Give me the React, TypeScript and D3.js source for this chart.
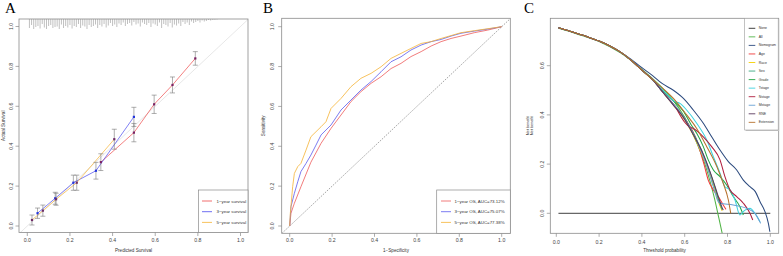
import React from "react";
import * as d3 from "d3";

// ---------- shared ticks ----------
const AXIS_TICKS = [0, 0.2, 0.4, 0.6, 0.8, 1.0];
const C_Y_TICKS = [0, 0.2, 0.4, 0.6];

// ---------- Panel A: calibration ----------
const calNames = ["1\u2212year survival", "3\u2212year survival", "5\u2212year survival"];
const calColors = ["#ee4a4a", "#4a4aee", "#f5b335"];
const calPointColors = ["#7a2062", "#2233dd", "#6e2a66"];
const calPred1 = [0.345, 0.5, 0.595, 0.681, 0.788];
const calObs1 = [0.32, 0.468, 0.61, 0.707, 0.84];
const calErr1 = [0.042, 0.046, 0.046, 0.04, 0.034];
const calPred3 = [0.048, 0.131, 0.216, 0.322, 0.5];
const calObs3 = [0.064, 0.139, 0.217, 0.277, 0.547];
const calErr3 = [0.026, 0.03, 0.038, 0.042, 0.048];
const calPred5 = [0.022, 0.073, 0.135, 0.232, 0.408];
const calObs5 = [0.03, 0.077, 0.134, 0.217, 0.435];
const calErr5 = [0.025, 0.028, 0.03, 0.038, 0.05];
const rugPos = d3.range(1, 90).map((i) => i / 100);
const rugHeight = [
  0.9, 0.6, 1, 0.8, 0.7, 0.95, 0.5, 0.85, 1, 0.7, 0.6, 0.9, 0.8, 0.75, 1, 0.55, 0.9, 0.7, 0.85, 0.6,
  0.95, 0.7, 0.8, 0.5, 0.9, 0.65, 0.75, 1, 0.6, 0.8, 0.7, 0.55, 0.9, 0.6, 0.75, 0.5, 0.85, 0.65, 0.4, 0.7,
  0.55, 0.8, 0.45, 0.6, 0.35, 0.7, 0.5, 0.4, 0.65, 0.3, 0.55, 0.45, 0.75, 0.35, 0.5, 0.6, 0.4, 0.8, 0.45, 0.55,
  0.7, 0.35, 0.9, 0.5, 0.6, 0.75, 0.4, 0.85, 0.55, 0.65, 0.45, 0.7, 0.3, 0.5, 0.35, 0.6, 0.25, 0.4, 0.3, 0.2,
  0.35, 0.15, 0.25, 0.2, 0.1, 0.15, 0.1, 0.08, 0.05,
];

// ---------- Panel B: ROC ----------
const rocNames = ["1\u2212year OS, AUC=73.12%", "3\u2212year OS, AUC=75.07%", "5\u2212year OS, AUC=77.38%"];
const rocColors = ["#ee5a5a", "#5a5aee", "#f5b335"];
const roc1X = [0, 0.006, 0.022, 0.053, 0.1, 0.148, 0.195, 0.242, 0.289, 0.336, 0.384, 0.431, 0.478, 0.525, 0.572, 0.62, 0.667, 0.714, 0.761, 0.808, 0.871, 0.934, 1];
const roc1Y = [0, 0.064, 0.114, 0.197, 0.32, 0.415, 0.49, 0.557, 0.624, 0.674, 0.716, 0.749, 0.79, 0.816, 0.85, 0.875, 0.903, 0.925, 0.941, 0.953, 0.97, 0.983, 1];
const roc2X = [0, 0.006, 0.022, 0.038, 0.053, 0.077, 0.1, 0.124, 0.148, 0.195, 0.242, 0.289, 0.336, 0.384, 0.431, 0.478, 0.525, 0.572, 0.62, 0.667, 0.714, 0.761, 0.808, 0.871, 0.934, 1];
const roc2Y = [0, 0.097, 0.164, 0.222, 0.273, 0.314, 0.356, 0.406, 0.457, 0.507, 0.582, 0.632, 0.682, 0.725, 0.774, 0.824, 0.849, 0.883, 0.908, 0.925, 0.936, 0.953, 0.967, 0.978, 0.988, 1];
const roc3X = [0, 0.003, 0.014, 0.022, 0.038, 0.053, 0.077, 0.1, 0.124, 0.148, 0.171, 0.195, 0.242, 0.289, 0.336, 0.384, 0.431, 0.478, 0.525, 0.572, 0.62, 0.667, 0.714, 0.808, 0.871, 1];
const roc3Y = [0, 0.064, 0.197, 0.264, 0.298, 0.314, 0.381, 0.448, 0.473, 0.498, 0.523, 0.59, 0.64, 0.699, 0.741, 0.766, 0.799, 0.841, 0.866, 0.891, 0.916, 0.925, 0.941, 0.97, 0.98, 1];

// ---------- Panel C: decision curves ----------
const dcaNames = ["None", "All", "Nomogram", "Age", "Race", "Sex", "Grade", "Tstage", "Nstage", "Mstage", "RNE", "Extension"];
const dcaColors = ["#2b2b2b", "#52b447", "#2c4a7e", "#f03a3a", "#f5d000", "#3aa880", "#22a544", "#3fd3df", "#b01e3e", "#6aa2d4", "#5b3a5e", "#b5722c"];
const commonT = [0.01, 0.05, 0.1, 0.15, 0.2, 0.25, 0.3, 0.35, 0.4, 0.45];
const commonV = [0.754, 0.744, 0.73, 0.716, 0.7, 0.68, 0.655, 0.622, 0.582, 0.543];
const noneT = [0.01, 1.0];
const noneV = [0, 0];
const allT = [0.01, 0.1, 0.2, 0.3, 0.4, 0.5, 0.55, 0.6, 0.65, 0.7, 0.72, 0.74, 0.76, 0.776];
const allV = [0.752, 0.728, 0.698, 0.652, 0.585, 0.505, 0.455, 0.39, 0.3, 0.185, 0.125, 0.058, -0.021, -0.085];
const nomoT = [0.35, 0.4, 0.45, 0.494, 0.547, 0.594, 0.64, 0.687, 0.726, 0.765, 0.804, 0.843, 0.874, 0.905, 0.93, 0.952, 0.975, 0.991, 0.998];
const nomoV = [0.626, 0.592, 0.56, 0.528, 0.5, 0.467, 0.42, 0.366, 0.311, 0.257, 0.21, 0.176, 0.135, 0.108, 0.088, 0.047, 0.007, -0.041, -0.075];
const ageT = [0.5, 0.6, 0.65, 0.69, 0.71, 0.734, 0.757, 0.78, 0.793];
const ageV = [0.49, 0.385, 0.31, 0.2, 0.135, 0.095, 0.068, 0.034, 0.016];
const raceT = [0.5, 0.55, 0.6, 0.65, 0.7, 0.74, 0.765, 0.775];
const raceV = [0.49, 0.438, 0.38, 0.3, 0.2, 0.1, 0.03, 0.01];
const sexT = [0.5, 0.55, 0.6, 0.65, 0.7, 0.74, 0.76, 0.775];
const sexV = [0.49, 0.44, 0.385, 0.31, 0.21, 0.11, 0.05, 0.015];
const gradeT = [0.5, 0.55, 0.594, 0.63, 0.656, 0.687, 0.71, 0.734, 0.765, 0.796, 0.827, 0.858, 0.874];
const gradeV = [0.495, 0.455, 0.415, 0.36, 0.325, 0.271, 0.217, 0.176, 0.149, 0.115, 0.068, 0.027, -0.007];
const tstageT = [0.5, 0.555, 0.578, 0.609, 0.656, 0.703, 0.734, 0.765, 0.788, 0.812, 0.835, 0.858, 0.872, 0.882, 0.905, 0.928, 0.952];
const tstageV = [0.5, 0.454, 0.447, 0.42, 0.366, 0.298, 0.23, 0.163, 0.108, 0.095, 0.054, -0.007, 0.005, 0.013, 0.02, 0.0, -0.034];
const nstageT = [0.5, 0.55, 0.6, 0.62, 0.64, 0.687, 0.726, 0.765, 0.788, 0.812, 0.843, 0.874, 0.905, 0.918];
const nstageV = [0.49, 0.44, 0.37, 0.352, 0.345, 0.311, 0.271, 0.217, 0.149, 0.095, 0.068, 0.041, 0.0, -0.027];
const mstageT = [0.5, 0.6, 0.65, 0.7, 0.74, 0.755, 0.765, 0.827, 0.89, 0.928, 0.955];
const mstageV = [0.49, 0.385, 0.305, 0.2, 0.09, 0.05, 0.041, 0.034, 0.02, 0.0, -0.041];
const rneT = [0.5, 0.547, 0.594, 0.64, 0.687, 0.726, 0.757, 0.773, 0.78];
const rneV = [0.49, 0.44, 0.39, 0.32, 0.24, 0.15, 0.068, 0.027, 0.013];
const extT = [0.508, 0.547, 0.609, 0.656, 0.703, 0.75, 0.78, 0.804, 0.815];
const extV = [0.5, 0.467, 0.4, 0.345, 0.271, 0.19, 0.122, 0.054, 0.0];

const FONT = "'Liberation Sans', Arial, Helvetica, sans-serif";
const SERIF = "'Liberation Serif', 'Times New Roman', serif";

type Box = { l: number; r: number; t: number; b: number };

function Frame(props: {
  box: Box;
  xs: d3.ScaleLinear<number, number>;
  ys: d3.ScaleLinear<number, number>;
  xTicks: number[];
  yTicks: number[];
  yLabelX: number;
  xLabelY: number;
  xTitle: string;
  yTitles: string[];
  yTitleX: number[];
  yTitleSize: number;
  letter: string;
  letterX: number;
}) {
  const { box, xs, ys } = props;
  const f = d3.format(".1f");
  return (
    <g>
      <rect x={box.l} y={box.t} width={box.r - box.l} height={box.b - box.t} fill="none" stroke="#8a8a8a" strokeWidth={0.8} />
      {props.xTicks.map((t) => (
        <g key={"x" + t}>
          <line x1={xs(t)} x2={xs(t)} y1={box.b} y2={box.b + 3.5} stroke="#8a8a8a" strokeWidth={0.7} />
          <text x={xs(t)} y={props.xLabelY} fontSize={5.2} fontFamily={FONT} fill="#444" textAnchor="middle" dominantBaseline="central">
            {f(t)}
          </text>
        </g>
      ))}
      {props.yTicks.map((t) => (
        <g key={"y" + t}>
          <line x1={box.l - 3.5} x2={box.l} y1={ys(t)} y2={ys(t)} stroke="#8a8a8a" strokeWidth={0.7} />
          <text
            transform={`translate(${props.yLabelX},${ys(t)}) rotate(-90)`}
            fontSize={5.2}
            fontFamily={FONT}
            fill="#444"
            textAnchor="middle"
            dominantBaseline="central"
          >
            {f(t)}
          </text>
        </g>
      ))}
      <text x={(box.l + box.r) / 2} y={250.5} fontSize={4.6} fontFamily={FONT} fill="#333" textAnchor="middle" dominantBaseline="central">
        {props.xTitle}
      </text>
      {props.yTitles.map((s, i) => (
        <text
          key={s + i}
          transform={`translate(${props.yTitleX[i]},${(box.t + box.b) / 2}) rotate(-90)`}
          fontSize={props.yTitleSize}
          fontFamily={FONT}
          fill="#333"
          textAnchor="middle"
          dominantBaseline="central"
        >
          {s}
        </text>
      ))}
      <text x={props.letterX} y={13} fontSize={15} fontFamily={SERIF} fill="#000">
        {props.letter}
      </text>
    </g>
  );
}

function PanelA() {
  const box = { l: 19, r: 248, t: 19, b: 232.5 };
  const xs = d3.scaleLinear().domain([0, 1]).range([27.3, 240.5]);
  const ys = d3.scaleLinear().domain([0, 1]).range([226, 26.5]);
  const series = [
    { p: calPred1, o: calObs1, e: calErr1 },
    { p: calPred3, o: calObs3, e: calErr3 },
    { p: calPred5, o: calObs5, e: calErr5 },
  ];
  const line = d3
    .line<[number, number]>()
    .x((d) => xs(d[0]))
    .y((d) => ys(d[1]));
  const diagLo = xs.invert(box.l);
  const diagHi = xs.invert(box.r);
  return (
    <g>
      <defs>
        <clipPath id="clipA">
          <rect x={box.l} y={box.t} width={box.r - box.l} height={box.b - box.t} />
        </clipPath>
      </defs>
      <g clipPath="url(#clipA)">
        <line x1={xs(diagLo)} y1={ys(diagLo)} x2={xs(diagHi)} y2={ys(diagHi)} stroke="#dcdcdc" strokeWidth={0.7} />
      </g>
      {rugPos.map((p, i) => (
        <line key={"r" + i} x1={xs(p)} x2={xs(p)} y1={box.t} y2={box.t + 10 * rugHeight[i]} stroke="#8c8c8c" strokeWidth={0.55} />
      ))}
      {series.map((s, k) => (
        <path key={"l" + k} d={line(s.p.map((v, i) => [v, s.o[i]] as [number, number])) || ""} fill="none" stroke={calColors[k]} strokeWidth={0.7} />
      ))}
      {series.map((s, k) =>
        s.p.map((v, i) => (
          <g key={"e" + k + "-" + i}>
            <line x1={xs(v)} x2={xs(v)} y1={ys(s.o[i] - s.e[i])} y2={ys(s.o[i] + s.e[i])} stroke="#777" strokeWidth={0.6} />
            <line x1={xs(v) - 2.5} x2={xs(v) + 2.5} y1={ys(s.o[i] - s.e[i])} y2={ys(s.o[i] - s.e[i])} stroke="#777" strokeWidth={0.6} />
            <line x1={xs(v) - 2.5} x2={xs(v) + 2.5} y1={ys(s.o[i] + s.e[i])} y2={ys(s.o[i] + s.e[i])} stroke="#777" strokeWidth={0.6} />
            <rect x={xs(v) - 1.1} y={ys(s.o[i]) - 1.1} width={2.2} height={2.2} fill={calPointColors[k]} />
          </g>
        ))
      )}
      <Frame
        box={box}
        xs={xs}
        ys={ys}
        xTicks={AXIS_TICKS}
        yTicks={AXIS_TICKS}
        yLabelX={11}
        xLabelY={240}
        xTitle={"Predicted Survival"}
        yTitles={["Actual Survival"]}
        yTitleX={[3]}
        yTitleSize={4.6}
        letter="A"
        letterX={5}
      />
      <rect x={198.5} y={190} width={box.r - 198.5} height={box.b - 190} fill="white" stroke="#8a8a8a" strokeWidth={0.7} />
      {calNames.map((n, i) => (
        <g key={n}>
          <line x1={202} x2={212} y1={201 + i * 10.7} y2={201 + i * 10.7} stroke={calColors[i]} strokeWidth={0.8} />
          <text x={216.5} y={201 + i * 10.7} fontSize={4.4} fontFamily={FONT} fill="#333" dominantBaseline="central">
            {n}
          </text>
        </g>
      ))}
    </g>
  );
}

function PanelB() {
  const box = { l: 281.7, r: 510.3, t: 18.3, b: 233.3 };
  const xs = d3.scaleLinear().domain([0, 1]).range([289.7, 501.7]);
  const ys = d3.scaleLinear().domain([0, 1]).range([226, 26.7]);
  const line = d3
    .line<[number, number]>()
    .x((d) => xs(d[0]))
    .y((d) => ys(d[1]));
  const curves = [
    { x: roc1X, y: roc1Y },
    { x: roc2X, y: roc2Y },
    { x: roc3X, y: roc3Y },
  ];
  const lo = xs.invert(box.l);
  const hi = xs.invert(box.r);
  return (
    <g>
      <defs>
        <clipPath id="clipB">
          <rect x={box.l} y={box.t} width={box.r - box.l} height={box.b - box.t} />
        </clipPath>
      </defs>
      <g clipPath="url(#clipB)">
        <line x1={xs(lo)} y1={ys(lo)} x2={xs(hi)} y2={ys(hi)} stroke="#666" strokeWidth={0.6} strokeDasharray="1.5,1.2" />
        {curves.map((c, k) => (
          <path key={k} d={line(c.x.map((v, i) => [v, c.y[i]] as [number, number])) || ""} fill="none" stroke={rocColors[k]} strokeWidth={0.8} />
        ))}
      </g>
      <Frame
        box={box}
        xs={xs}
        ys={ys}
        xTicks={AXIS_TICKS}
        yTicks={AXIS_TICKS}
        yLabelX={272}
        xLabelY={239.5}
        xTitle={"1\u2212Specificity"}
        yTitles={["Sensitivity"]}
        yTitleX={[263.5]}
        yTitleSize={4.6}
        letter="B"
        letterX={263}
      />
      <rect x={436.7} y={190} width={box.r - 436.7} height={box.b - 190} fill="white" stroke="#8a8a8a" strokeWidth={0.7} />
      {rocNames.map((n, i) => (
        <g key={n}>
          <line x1={441} x2={451} y1={201 + i * 10.7} y2={201 + i * 10.7} stroke={rocColors[i]} strokeWidth={0.8} />
          <text x={454.5} y={201 + i * 10.7} fontSize={4.4} fontFamily={FONT} fill="#333" dominantBaseline="central">
            {n}
          </text>
        </g>
      ))}
    </g>
  );
}

function PanelC() {
  const box = { l: 550.3, r: 778.7, t: 18.3, b: 233.3 };
  const xs = d3.scaleLinear().domain([0, 1]).range([556.3, 770.3]);
  const ys = d3.scaleLinear().domain([0, 0.6]).range([213.3, 65.7]);
  const line = d3
    .line<[number, number]>()
    .x((d) => xs(d[0]))
    .y((d) => ys(d[1]))
    .curve(d3.curveMonotoneX);
  const withCommon = (t: number[], v: number[], upto: number) => {
    const pts: [number, number][] = [];
    commonT.forEach((ct, i) => {
      if (ct < upto) pts.push([ct, commonV[i]]);
    });
    t.forEach((tt, i) => pts.push([tt, v[i]]));
    return pts;
  };
  const zip = (t: number[], v: number[]) => t.map((tt, i) => [tt, v[i]] as [number, number]);
  const data: [number, number][][] = [
    zip(noneT, noneV),
    zip(allT, allV),
    withCommon(nomoT, nomoV, 0.32),
    withCommon(ageT, ageV, 0.46),
    withCommon(raceT, raceV, 0.46),
    withCommon(sexT, sexV, 0.46),
    withCommon(gradeT, gradeV, 0.46),
    withCommon(tstageT, tstageV, 0.46),
    withCommon(nstageT, nstageV, 0.46),
    withCommon(mstageT, mstageV, 0.46),
    withCommon(rneT, rneV, 0.46),
    withCommon(extT, extV, 0.46),
  ];
  const legY0 = 28.3;
  const legStep = 8.55;
  return (
    <g>
      <defs>
        <clipPath id="clipC">
          <rect x={box.l} y={box.t} width={box.r - box.l} height={box.b - box.t} />
        </clipPath>
      </defs>
      <g clipPath="url(#clipC)">
        {data.map((d, k) => (
          <path key={k} d={line(d) || ""} fill="none" stroke={dcaColors[k]} strokeWidth={k === 0 ? 0.9 : 1.05} />
        ))}
      </g>
      <Frame
        box={box}
        xs={xs}
        ys={ys}
        xTicks={AXIS_TICKS}
        yTicks={C_Y_TICKS}
        yLabelX={542}
        xLabelY={241.5}
        xTitle={"Threshold probability"}
        yTitles={["Net benefit", "Net benefit"]}
        yTitleX={[527, 531.5]}
        yTitleSize={3.9}
        letter="C"
        letterX={524}
      />
      <rect x={745.7} y={19.3} width={33.5} height={111.7} fill="#c8c8c8" />
      <rect x={744.7} y={18.3} width={33.5} height={111.7} fill="white" stroke="#9a9a9a" strokeWidth={0.6} />
      {dcaNames.map((n, i) => (
        <g key={n}>
          <line x1={748.7} x2={755.3} y1={legY0 + i * legStep} y2={legY0 + i * legStep} stroke={dcaColors[i]} strokeWidth={0.9} />
          <text x={758.7} y={legY0 + i * legStep} fontSize={3.5} fontFamily={FONT} fill="#333" dominantBaseline="central">
            {n}
          </text>
        </g>
      ))}
    </g>
  );
}

export default function App() {
  return (
    <svg width={783} height={256} viewBox="0 0 783 256" style={{ position: "absolute", left: 0, top: 0, background: "#fff" }}>
      <rect x={0} y={0} width={783} height={256} fill="#fff" />
      <PanelA />
      <PanelB />
      <PanelC />
    </svg>
  );
}
